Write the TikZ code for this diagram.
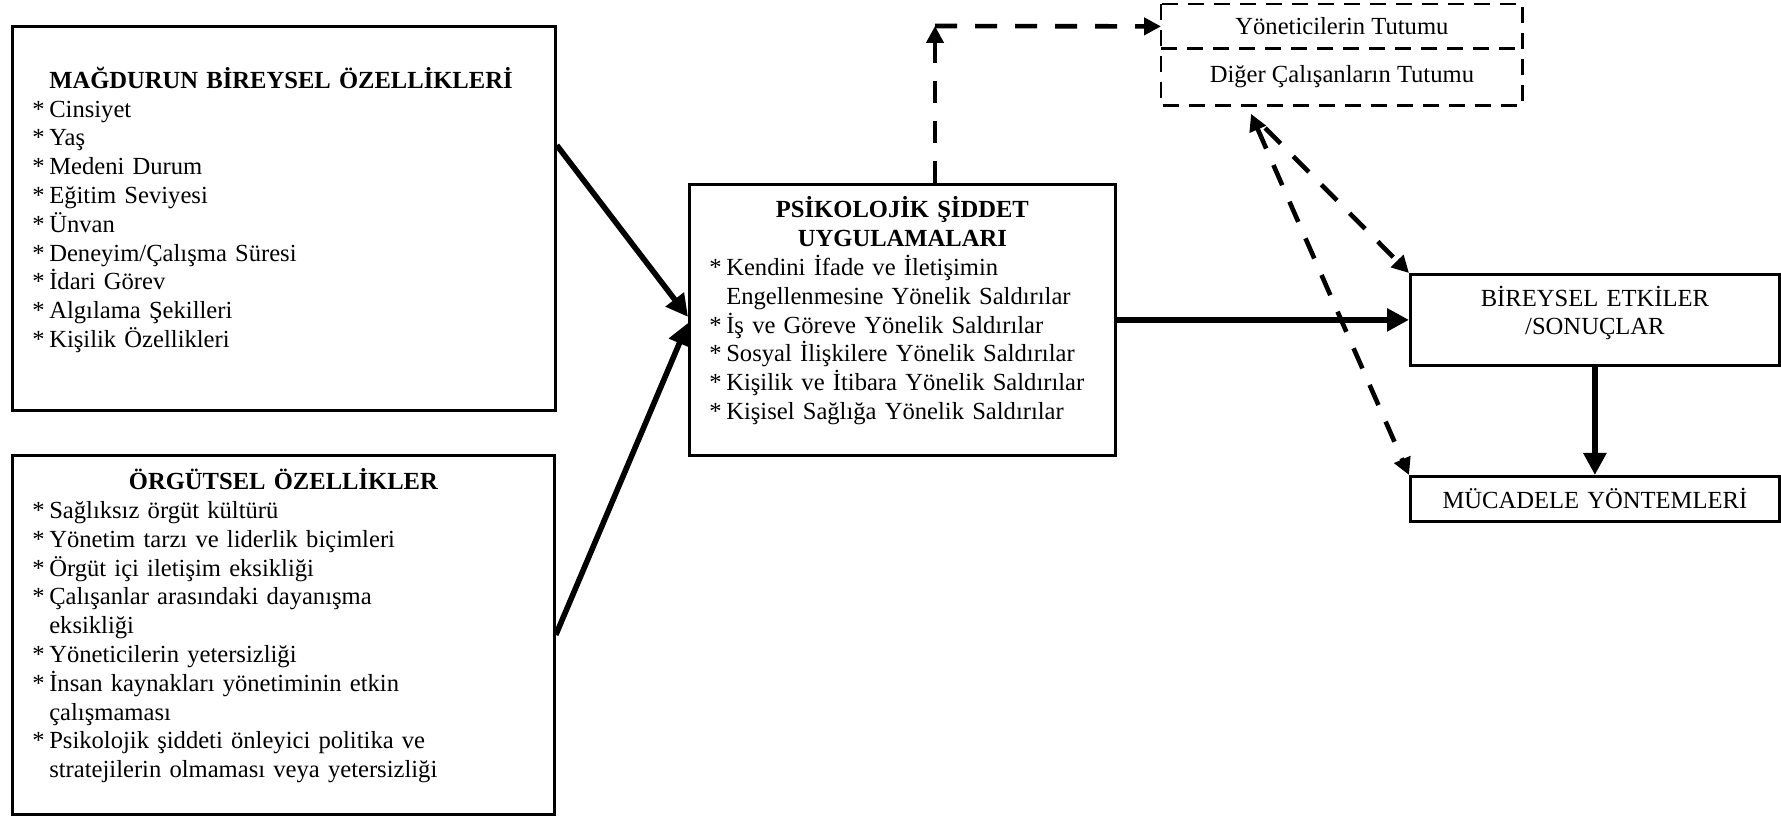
\documentclass[tikz,border=0pt]{standalone}
\usepackage{fontspec}
\setmainfont{Liberation Serif}
\usetikzlibrary{arrows.meta, positioning}
\newcommand{\staritem}{*\hspace{2.3pt}}

\begin{document}
\begin{tikzpicture}[
            x=0.5pt, y=-0.5pt,
            every node/.style={font=\fontsize{12.3}{14.4}\selectfont},
            box/.style={rectangle, draw, line width=1.4pt, inner xsep=10pt, inner ysep=3pt, anchor=north west},
            listbox/.style={box, align=left},
            plainbox/.style={box, align=center, text width=164.5pt, minimum width=184.5pt},
            attnode/.style={rectangle, inner sep=0pt, anchor=north west, minimum width=180.5pt},
            dashframe/.style={line width=1.35pt, dash pattern=on 8pt off 5pt},
            arrow/.style={-{Triangle[length=11pt, width=11pt]}, line width=2.8pt},
            dasharrow/.style={-{Triangle[length=8.5pt, width=8.5pt]}, line width=2.3pt, dash pattern=on 11pt off 9pt}
        ]
            \useasboundingbox (0,0) rectangle (1781,817);

            \node[listbox, text width=251.5pt, minimum width=271.5pt, minimum height=192pt] (victim) at (11,25) {%
                \hphantom{\staritem}\textbf{MAĞDURUN BİREYSEL ÖZELLİKLERİ}\\
                \staritem Cinsiyet\\
                \staritem Yaş\\
                \staritem Medeni Durum\\
                \staritem Eğitim Seviyesi\\
                \staritem Ünvan\\
                \staritem Deneyim/Çalışma Süresi\\
                \staritem İdari Görev\\
                \staritem Algılama Şekilleri\\
                \staritem Kişilik Özellikleri\par\kern8.5pt};
            \node[listbox, text width=251pt, minimum width=271pt, minimum height=179.5pt] (org) at (11,454) {%
                {\centering\bfseries ÖRGÜTSEL ÖZELLİKLER\par}
                \staritem Sağlıksız örgüt kültürü\\
                \staritem Yönetim tarzı ve liderlik biçimleri\\
                \staritem Örgüt içi iletişim eksikliği\\
                \staritem Çalışanlar arasındaki dayanışma\\
                \hphantom{\staritem}eksikliği\\
                \staritem Yöneticilerin yetersizliği\\
                \staritem İnsan kaynakları yönetiminin etkin\\
                \hphantom{\staritem}çalışmaması\\
                \staritem Psikolojik şiddeti önleyici politika ve\\
                \hphantom{\staritem}stratejilerin olmaması veya yetersizliği\par\kern9pt};
            \node[listbox, text width=193pt, minimum width=213pt, minimum height=135.5pt] (psych) at (688,183) {%
                {\centering\bfseries PSİKOLOJİK ŞİDDET\\UYGULAMALARI\par}
                \staritem Kendini İfade ve İletişimin\\
                \hphantom{\staritem}Engellenmesine Yönelik Saldırılar\\
                \staritem İş ve Göreve Yönelik Saldırılar\\
                \staritem Sosyal İlişkilere Yönelik Saldırılar\\
                \staritem Kişilik ve İtibara Yönelik Saldırılar\\
                \staritem Kişisel Sağlığa Yönelik Saldırılar\par\kern9pt};
            \node[attnode, minimum height=22pt] (attmgr) at (1161,4) {Yöneticilerin Tutumu};
            \node[attnode, minimum height=28.5pt] (attemp) at (1161,48) {Diğer Çalışanların Tutumu};
            \node[plainbox, minimum height=45.5pt] (indiv) at (1409,273) {BİREYSEL ETKİLER\\/SONUÇLAR\par\kern7pt};
            \node[plainbox, minimum height=22.5pt] (coping) at (1409,475) {MÜCADELE YÖNTEMLERİ};

            \draw[dashframe] (attmgr.north west) rectangle (attemp.south east);
            \draw[dashframe] (attmgr.south west) -- (attmgr.south east);

            \coordinate (bend) at (935,26);
            \coordinate (attsrc) at ([xshift=45pt, yshift=-4pt]attemp.south west);

            \draw[arrow] (victim.15) -- ([yshift=1.5pt]psych.west);
            \draw[arrow] (org.east) -- ([yshift=-1.5pt]psych.west);
            \draw[dasharrow] (bend |- psych.north) -- (bend);
            \draw[dasharrow] (bend) -- (attmgr.west);
            \draw[arrow] (psych.east) -- (indiv.west);
            \draw[dasharrow, shorten <=10pt] (attsrc) -- (indiv.north west);
            \draw[dasharrow, {Triangle[length=8.5pt, width=8.5pt]}-{Triangle[length=8.5pt, width=8.5pt]}] (attsrc) -- (coping.north west);
            \draw[arrow] (indiv.south) -- (coping.north);
        \end{tikzpicture}
\end{document}
